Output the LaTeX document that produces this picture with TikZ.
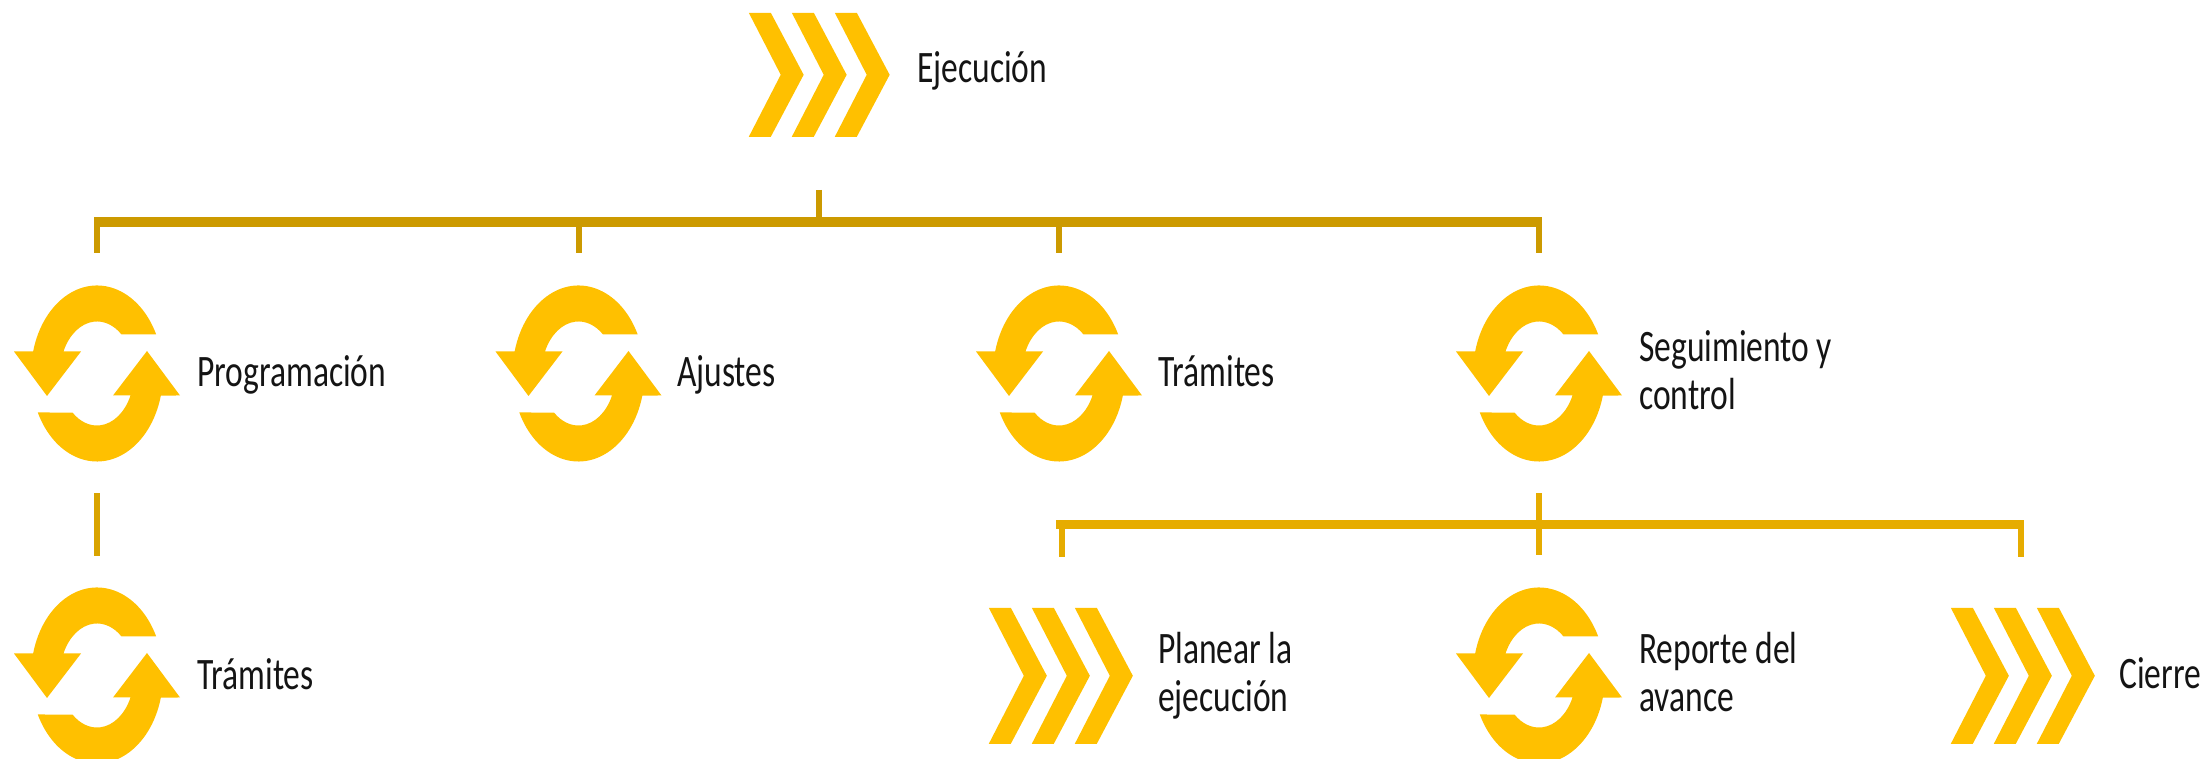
\documentclass[tikz,border=0pt]{standalone}
\usepackage{fontspec}
\setmainfont[FakeStretch=0.745]{Carlito}
\definecolor{iconyellow}{HTML}{FFC000}
\definecolor{topcol}{HTML}{CC9A00}
\definecolor{lowcol}{HTML}{E6AC00}
\definecolor{leftcol}{HTML}{D9A400}
\definecolor{textcol}{HTML}{141414}
\tikzset{
  pics/refresh/.style={code={
    \fill[iconyellow] (59.2,39) arc[start angle=26.3,end angle=165.5,x radius=66,y radius=88]
      -- (-83,22) -- (-50,-22.5) -- (-16,22) -- (-33.5,22)
      arc[start angle=155,end angle=48.6,x radius=37,y radius=52] -- cycle;
    \begin{scope}[rotate=180]
    \fill[iconyellow] (59.2,39) arc[start angle=26.3,end angle=165.5,x radius=66,y radius=88]
      -- (-83,22) -- (-50,-22.5) -- (-16,22) -- (-33.5,22)
      arc[start angle=155,end angle=48.6,x radius=37,y radius=52] -- cycle;
    \end{scope}
  }},
  pics/chevrons/.style={code={
    \foreach \i in {0,1,2}{
      \fill[iconyellow,shift={(43*\i,0)}] (0,0) -- (22,0) -- ({22+0.265*#1},{-#1/2})
        -- (22,-#1) -- (0,-#1) -- ({0.2575*#1},{-#1/2}) -- cycle;
    }
  }},
  iconbox/.style={minimum width=166pt,minimum height=177pt,inner sep=0pt,draw=none},
  chevbox/.style={minimum width=145pt,minimum height=#1,inner sep=0pt,draw=none},
  lbl/.style={font=\fontsize{45}{48}\selectfont,text=textcol,inner sep=0pt,anchor=base west,align=left},
  topline/.style={draw=topcol,line width=6pt},
  topbar/.style={draw=topcol,line width=10pt},
  lowline/.style={draw=lowcol,line width=6pt},
  lowbar/.style={draw=lowcol,line width=9pt},
  leftline/.style={draw=leftcol,line width=6pt},
}
\begin{document}
\begin{tikzpicture}[x=1pt,y=1pt]
\useasboundingbox (0,0) rectangle (2206,759);
\clip (0,0) rectangle (2206,759);
% icon nodes
\node[chevbox=124pt] (ejec) at (821.5,684) {};
\pic at (ejec.north west) {chevrons=124};
\node[iconbox] (prog) at (97,385.5) {};
\node[iconbox] (ajus) at (578.5,385.5) {};
\node[iconbox] (tram) at (1059,385.5) {};
\node[iconbox] (segu) at (1539,385.5) {};
\node[iconbox] (tram2) at (97,83.5) {};
\node[chevbox=136pt] (plan) at (1061.5,83) {};
\pic at (plan.north west) {chevrons=136};
\node[iconbox] (repo) at (1539,83.5) {};
\node[chevbox=136pt] (cier) at (2023.5,83) {};
\pic at (cier.north west) {chevrons=136};
\foreach \n in {prog,ajus,tram,segu,tram2,repo}{\pic at (\n) {refresh};}
% labels (two-line labels are placed by the baseline of their last line)
\node[lbl] (eject) at (917,676) {Ejecución};
\node[lbl] (progt) at (197,372) {Programación};
\node[lbl] (ajust) at (677,372) {Ajustes};
\node[lbl] (tramt) at (1158,372) {Trámites};
\node[lbl] (segut) at (1639,349) {Seguimiento y\\control};
\node[lbl] (tram2t) at (197,69) {Trámites};
\node[lbl] (plant) at (1158,47) {Planear la\\ejecución};
\node[lbl] (repot) at (1639,47) {Reporte del\\avance};
\node[lbl] (ciert) at (2119,70) {Cierre};
% top tree
\coordinate (tstem) at (819,569);
\coordinate (tjoin) at (819,537);
\coordinate (tL) at (94,537);
\coordinate (tR) at (1542,537);
\draw[topline] (tstem) -- (tjoin);
\draw[topbar] (tL) -- (tR);
\foreach \n in {prog,ajus,tram,segu}{
  \draw[topline] (\n.north |- tjoin) -- ([yshift=32pt]\n.north);
}
% left branch
\draw[leftline] ([yshift=-31pt]prog.south) -- ([yshift=31pt]tram2.north);
% lower tree
\coordinate (ljoin) at (1539,234.5);
\coordinate (lL) at (1056,234.5);
\coordinate (lR) at (2024,234.5);
\draw[lowline] ([yshift=-31pt]segu.south) -- (ljoin);
\draw[lowbar] (lL) -- (lR);
\draw[lowline] (plan.north |- ljoin) -- ([yshift=51pt]plan.north);
\draw[lowline] (repo.north |- ljoin) -- ([yshift=31.5pt]repo.north);
\draw[lowline] ([xshift=-2.5pt]cier.north |- ljoin) -- ([xshift=-2.5pt,yshift=51pt]cier.north);
\end{tikzpicture}
\end{document}
